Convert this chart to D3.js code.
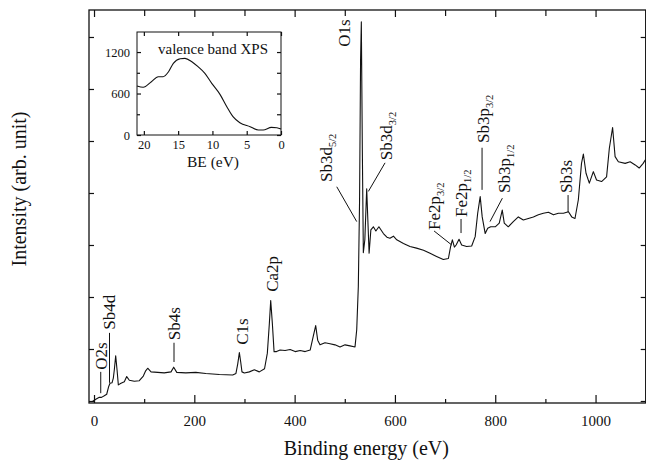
<!DOCTYPE html>
<html>
<head>
<meta charset="utf-8">
<script src="https://cdn.jsdelivr.net/npm/d3@7"></script>
<style>
  html, body { margin: 0; padding: 0; background: #fff; }
  svg { display: block; }
  text { font-family: "Liberation Serif", "Times New Roman", serif; fill: #111; }
</style>
</head>
<body>
<svg id="chart" width="646" height="460"></svg>
<script>
// Survey XPS spectrum: binding energy (eV) and intensity (arb. unit)
const binding = [
  -3, 2.7, 10.6, 15, 20.5, 25.3, 29.3, 31.9, 35.9, 38.5, 40.5, 43.2, 45.9, 48.5, 53.8, 60.4, 65.2, 70.4,
  80.4, 90.3, 98.3, 103, 107, 113.7, 127, 140, 153.5, 158.9, 165, 183, 203, 223, 250, 276.5, 283,
  286.5, 289.8, 292.5, 295, 299.8, 309.7, 319.7, 329.6, 340, 345.6, 349.6, 352.3, 355.6, 359, 364,
  371, 381, 391, 401, 411, 421, 431, 437, 442, 446, 450.6, 460.6, 470.6, 480.6, 490.5, 500.5, 510.5,
  520.4, 523.8, 527, 529.5, 531.5, 533, 535, 537, 540, 543.7, 546, 548.5, 552, 557, 562, 568, 577,
  584, 590, 597, 603.6, 617, 630, 643, 657, 670, 683, 696.5, 706.6, 711, 714.5, 718.6, 722, 727.8,
  733, 743, 753, 760, 765, 770, 774, 780, 785, 791, 800, 808, 814, 818, 826, 836, 846, 856, 866,
  876, 886, 896, 906, 916, 926, 936, 946, 952.5, 959, 965.7, 972, 975.7, 981, 987.6, 995.6, 1002,
  1012, 1022, 1027.5, 1034, 1039, 1045.5, 1059, 1069, 1079, 1087, 1095, 1100
];
const intensity = [
  -0.01, 0.03, 0.07, 0.07, 0.10, 0.13, 0.28, 0.34, 0.35, 0.44, 0.60, 0.87, 0.60, 0.31, 0.34, 0.37, 0.47, 0.40,
  0.38, 0.39, 0.48, 0.58, 0.63, 0.56, 0.55, 0.54, 0.56, 0.65, 0.55, 0.54, 0.55, 0.53, 0.51, 0.50, 0.53,
  0.71, 0.93, 0.75, 0.56, 0.54, 0.56, 0.60, 0.56, 0.62, 0.92, 1.49, 1.93, 1.49, 0.95, 0.95,
  0.98, 0.97, 0.99, 0.95, 0.97, 0.95, 0.98, 1.24, 1.45, 1.17, 1.08, 1.12, 1.10, 1.08, 1.04, 1.08, 1.06,
  1.04, 1.37, 2.20, 3.87, 6.56, 7.29, 4.83, 2.85, 3.10, 4.08, 3.48, 2.84, 3.29, 3.35, 3.27, 3.35, 3.22,
  3.15, 3.13, 3.17, 3.10, 3.03, 2.97, 2.94, 2.90, 2.84, 2.78, 2.72, 2.74, 2.97, 3.10, 2.96, 3.00, 3.11,
  3.00, 2.97, 2.98, 3.16, 3.61, 3.93, 3.54, 3.22, 3.32, 3.35, 3.35, 3.42, 3.67, 3.42, 3.35, 3.45, 3.54, 3.48, 3.51,
  3.54, 3.58, 3.61, 3.63, 3.58, 3.61, 3.61, 3.64, 3.54, 3.51, 3.87, 4.57, 4.75, 4.38, 4.19, 4.41, 4.25,
  4.22, 4.31, 4.86, 5.26, 4.70, 4.60, 4.57, 4.60, 4.54, 4.48, 4.57, 4.65
];

// Valence band spectrum (inset)
const vbEnergy = [21.0, 20.1, 18.9, 17.9, 17.2, 16.4, 15.7, 14.7, 14.0, 13.0, 12.1, 11.1, 10.1, 8.9, 7.9, 7.0, 6.0, 4.5, 3.3, 2.6, 1.4, 0.6, 0.0];
const vbCounts = [708, 690, 771, 843, 843, 915, 1037, 1103, 1109, 1060, 988, 892, 747, 588, 409, 265, 178, 120, 72, 72, 111, 106, 87];

// Tick values
const xMajorTicks = [0, 200, 400, 600, 800, 1000];
const xMinorTicks = [100, 300, 500, 700, 900];
const yTicks = [0, 1, 2, 3, 4, 5, 6, 7];
const vbXTicks = [20, 15, 10, 5, 0];
const vbYMajor = [0, 600, 1200];
const vbYMinor = [300, 900];

// Peak labels: text baseline anchored at (e, v); optional leader line from (e1,v1) to (e2,v2)
const peakNames = ["O2s", "Sb4d", "Sb4s", "C1s", "Ca2p", "O1s", "Sb3d", "Sb3d", "Fe2p", "Fe2p", "Sb3p", "Sb3p", "Sb3s"];
const peakSubs  = ["", "", "", "", "", "", "5/2", "3/2", "3/2", "1/2", "3/2", "1/2", ""];
const peakE     = [24.9, 41.3, 170.9, 308, 366.3, 509.9, 474, 593.6, 689.3, 743.2, 787, 828.9, 952.5];
const peakV     = [0.60, 1.37, 1.17, 1.08, 2.10, 6.81, 4.21, 4.63, 3.29, 3.54, 4.96, 4.00, 4.00];
const leaders = [
  [13.4, 0.56, 13.4, 0.15],
  [30.9, 1.31, 30.9, 0.35],
  [159.5, 1.12, 159.5, 0.75],
  null, null, null,
  [484, 4.12, 523.8, 3.45],
  [580.3, 4.58, 547, 4.03],
  [678, 3.27, 713.3, 3.00],
  [731.8, 3.50, 731.8, 3.23],
  [773.7, 4.87, 773.7, 4.06],
  [814.2, 3.90, 789.6, 3.45],
  [945.2, 3.96, 945.2, 3.63]
];

const svg = d3.select("#chart");
const ink = "#111";
const plain = d3.format("d");

// ---- main plot ----
const x = d3.scaleLinear().domain([-10, 1100]).range([89, 645.7]);
const y = d3.scaleLinear().domain([-0.0385, 7.519]).range([403, 10]);
const [x0, x1] = x.range();
const [yb, yt] = y.range();

svg.append("clipPath").attr("id", "plotClip")
  .append("rect").attr("x", x0).attr("y", yt).attr("width", x1 - x0).attr("height", yb - yt);

function styleAxis(g) {
  g.select(".domain").remove();
  g.selectAll(".tick line").attr("stroke", ink).attr("stroke-width", 1.2);
  g.selectAll(".tick text").attr("fill", ink).style("font-family", '"Liberation Serif", serif');
}

svg.append("g").attr("transform", `translate(0,${yb})`)
  .call(d3.axisBottom(x).tickValues(xMajorTicks).tickFormat(plain).tickSizeInner(-8).tickSizeOuter(0).tickPadding(12))
  .call(styleAxis)
  .call(g => g.selectAll(".tick text").style("font-size", "15px"));
svg.append("g").attr("transform", `translate(0,${yb})`)
  .call(d3.axisBottom(x).tickValues(xMinorTicks).tickSizeInner(-4).tickSizeOuter(0).tickFormat(""))
  .call(styleAxis);
svg.append("g").attr("transform", `translate(0,${yt})`)
  .call(d3.axisTop(x).tickValues(xMajorTicks).tickSizeInner(-7).tickSizeOuter(0).tickFormat(""))
  .call(styleAxis);
svg.append("g").attr("transform", `translate(0,${yt})`)
  .call(d3.axisTop(x).tickValues(xMinorTicks).tickSizeInner(-6).tickSizeOuter(0).tickFormat(""))
  .call(styleAxis);
svg.append("g").attr("transform", `translate(${x0},0)`)
  .call(d3.axisLeft(y).tickValues(yTicks).tickSizeInner(-5).tickSizeOuter(0).tickFormat(""))
  .call(styleAxis);
svg.append("g").attr("transform", `translate(${x1},0)`)
  .call(d3.axisRight(y).tickValues(yTicks).tickSizeInner(-5).tickSizeOuter(0).tickFormat(""))
  .call(styleAxis);

// spectrum
const idx = d3.range(binding.length);
svg.append("path")
  .attr("clip-path", "url(#plotClip)")
  .attr("d", d3.line().x(i => x(binding[i])).y(i => y(intensity[i]))(idx))
  .attr("fill", "none").attr("stroke", ink).attr("stroke-width", 1.1).attr("stroke-linejoin", "round");

// frame
svg.append("rect").attr("x", x0).attr("y", yt).attr("width", x1 - x0).attr("height", yb - yt)
  .attr("fill", "none").attr("stroke", ink).attr("stroke-width", 1.3);

// peak labels
const labels = svg.append("g");
peakNames.forEach((name, i) => {
  const t = labels.append("text")
    .attr("transform", `translate(${x(peakE[i])},${y(peakV[i])}) rotate(-90)`)
    .style("font-size", "17px");
  t.append("tspan").text(name);
  if (peakSubs[i]) {
    t.append("tspan").attr("dy", 4).style("font-size", "10.5px").text(peakSubs[i]);
  }
  const l = leaders[i];
  if (l) {
    labels.append("line")
      .attr("x1", x(l[0])).attr("y1", y(l[1])).attr("x2", x(l[2])).attr("y2", y(l[3]))
      .attr("stroke", ink).attr("stroke-width", 1);
  }
});

// axis titles
svg.append("text").attr("x", (x0 + x1) / 2 - 1).attr("y", 455).attr("text-anchor", "middle")
  .style("font-size", "20px").text("Binding energy (eV)");
svg.append("text").attr("transform", "translate(26,189) rotate(-90)").attr("text-anchor", "middle")
  .style("font-size", "20px").text("Intensity (arb. unit)");

// ---- inset: valence band ----
const xi = d3.scaleLinear().domain([21, 0]).range([137, 281]);
const yi = d3.scaleLinear().domain([0, 1490]).range([135, 32]);
const [ix0, ix1] = xi.range();
const [iyb, iyt] = yi.range();

svg.append("rect").attr("x", ix0).attr("y", iyt).attr("width", ix1 - ix0).attr("height", iyb - iyt)
  .attr("fill", "#fff");

svg.append("g").attr("transform", `translate(0,${iyb})`)
  .call(d3.axisBottom(xi).tickValues(vbXTicks).tickFormat(plain).tickSizeInner(-4).tickSizeOuter(0).tickPadding(5))
  .call(styleAxis)
  .call(g => g.selectAll(".tick text").style("font-size", "12.5px"));
svg.append("g").attr("transform", `translate(0,${iyt})`)
  .call(d3.axisTop(xi).tickValues(vbXTicks).tickSizeInner(-4).tickSizeOuter(0).tickFormat(""))
  .call(styleAxis);
svg.append("g").attr("transform", `translate(${ix0},0)`)
  .call(d3.axisLeft(yi).tickValues(vbYMajor).tickFormat(plain).tickSizeInner(-4).tickSizeOuter(0).tickPadding(7))
  .call(styleAxis)
  .call(g => g.selectAll(".tick text").style("font-size", "12.5px"));
svg.append("g").attr("transform", `translate(${ix0},0)`)
  .call(d3.axisLeft(yi).tickValues(vbYMinor).tickSizeInner(-3).tickSizeOuter(0).tickFormat(""))
  .call(styleAxis);
svg.append("g").attr("transform", `translate(${ix1},0)`)
  .call(d3.axisRight(yi).tickValues(vbYMajor.concat(vbYMinor)).tickSizeInner(-4).tickSizeOuter(0).tickFormat(""))
  .call(styleAxis);

svg.append("path")
  .attr("d", d3.line().curve(d3.curveMonotoneX).x(i => xi(vbEnergy[i])).y(i => yi(vbCounts[i]))(d3.range(vbEnergy.length)))
  .attr("fill", "none").attr("stroke", ink).attr("stroke-width", 1.1);

svg.append("rect").attr("x", ix0).attr("y", iyt).attr("width", ix1 - ix0).attr("height", iyb - iyt)
  .attr("fill", "none").attr("stroke", ink).attr("stroke-width", 1);

svg.append("text").attr("x", 158).attr("y", 54).style("font-size", "15px").text("valence band XPS");
svg.append("text").attr("x", 213).attr("y", 167).attr("text-anchor", "middle")
  .style("font-size", "15.5px").text("BE (eV)");
</script>
</body>
</html>
